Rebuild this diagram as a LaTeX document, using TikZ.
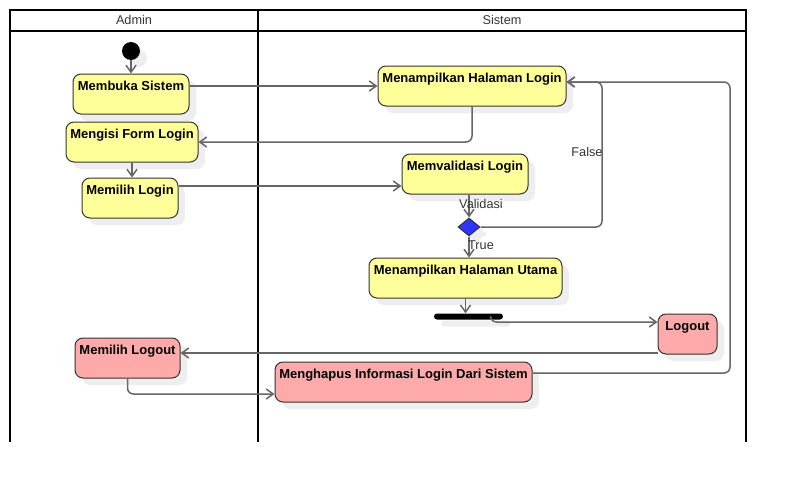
\documentclass[tikz,border=0pt]{standalone}
\usepackage{fontspec}
\setmainfont{Liberation Sans}
\usetikzlibrary{arrows.meta,shapes.geometric,shadows}
\definecolor{actY}{HTML}{FFFF99}
\definecolor{actR}{HTML}{FFAAAA}
\definecolor{decB}{HTML}{3333FF}
\definecolor{edgeC}{HTML}{666666}
\definecolor{bordC}{HTML}{333333}
\definecolor{shadC}{HTML}{EEEEEE}
\begin{document}
\begin{tikzpicture}[x=1pt,y=-1pt,
  shd/.style={drop shadow={shadow xshift=7pt, shadow yshift=-7pt, fill=shadC, opacity=1}},
  act/.style={draw=bordC, line width=1pt, rounded corners=8pt, shd,
    font=\fontsize{13}{15}\selectfont\bfseries, text=black,
    inner xsep=2pt, inner ysep=0pt, text height=16pt, text depth=24pt},
  lbl/.style={font=\fontsize{12.7}{14}\selectfont, text=black!80, inner sep=0pt},
  flow/.style={draw=edgeC, line width=1.5pt, rounded corners=6pt,
    -{Straight Barb[length=7pt,width=10pt]}},
  lane/.style={line width=2pt, draw=black}]
\useasboundingbox (0,0) rectangle (786,482);
% swimlanes
\draw[lane] (10,10) rectangle (746,31);
\draw[lane] (10,10) -- (10,442);
\draw[lane] (258,10) -- (258,442);
\draw[lane] (746,10) -- (746,442);
\node[lbl] (hA) at (134,19.5) {Admin};
\node[lbl] (hS) at (502,19.5) {Sistem};
% nodes
\node[circle, fill=black, minimum size=18pt, inner sep=0pt, shd] (start) at (131,51) {};
\node[act, fill=actY, minimum width=116pt] (m1) at (131,94) {Membuka Sistem};
\node[act, fill=actY, minimum width=132pt] (m2) at (132,142) {Mengisi Form Login};
\node[act, fill=actY, minimum width=96pt] (m3) at (130,198) {Memilih Login};
\node[act, fill=actY, minimum width=188pt] (s1) at (472,86) {Menampilkan Halaman Login};
\node[act, fill=actY, minimum width=126pt] (s2) at (465,174) {Memvalidasi Login};
\node[diamond, draw=bordC, line width=1pt, fill=decB, minimum width=22pt, minimum height=18pt, inner sep=0pt, shd] (d) at (469,227) {};
\node[act, fill=actY, minimum width=193pt] (s3) at (465.5,278) {Menampilkan Halaman Utama};
\node[fill=black, rounded corners=3pt, minimum width=69pt, minimum height=6pt, inner sep=0pt, shd] (fork) at (468.5,316.5) {};
\node[act, fill=actR, minimum width=59pt] (s4) at (687.5,334) {Logout};
\node[act, fill=actR, minimum width=105pt] (a4) at (127.5,358) {Memilih Logout};
\node[act, fill=actR, minimum width=257pt] (s5) at (403.5,382) {Menghapus Informasi Login Dari Sistem};
% connectors
\draw[flow] (start) -- (m1);
\draw[flow] (m1.east |- s1.west) -- (s1.west);
\draw[flow] (s1.south) |- (m2.east);
\draw[flow] (m2.south) -- (m2.south |- m3.north);
\draw[flow] ([yshift=12pt]m3.east) -- ([yshift=-12pt]s2.west);
\draw[flow] (d.north |- s2.south) -- (d.north);
\draw[flow] (d.east) -- (602,227) -- (602,82) -- ([yshift=4pt]s1.east);
\draw[flow] (d.south) -- (d.south |- s3.north);
\draw[flow] (s3.south) -- (s3.south |- fork.north);
\draw[flow] ([xshift=22pt]fork.south) |- ([yshift=12pt]s4.west);
\draw[flow] ([yshift=-19pt]s4.west) -- ([yshift=5pt]a4.east);
\draw[flow] (a4.south) |- ([yshift=-12pt]s5.west);
\draw[flow] ([yshift=9pt]s5.east) -- (730,373) -- (730,82) -- ([yshift=4pt]s1.east);
% labels
\node[lbl] (lv) at (481,204) {Validasi};
\node[lbl] (lt) at (481,245) {True};
\node[lbl] (lf) at (587,152) {False};
\end{tikzpicture}
\end{document}
